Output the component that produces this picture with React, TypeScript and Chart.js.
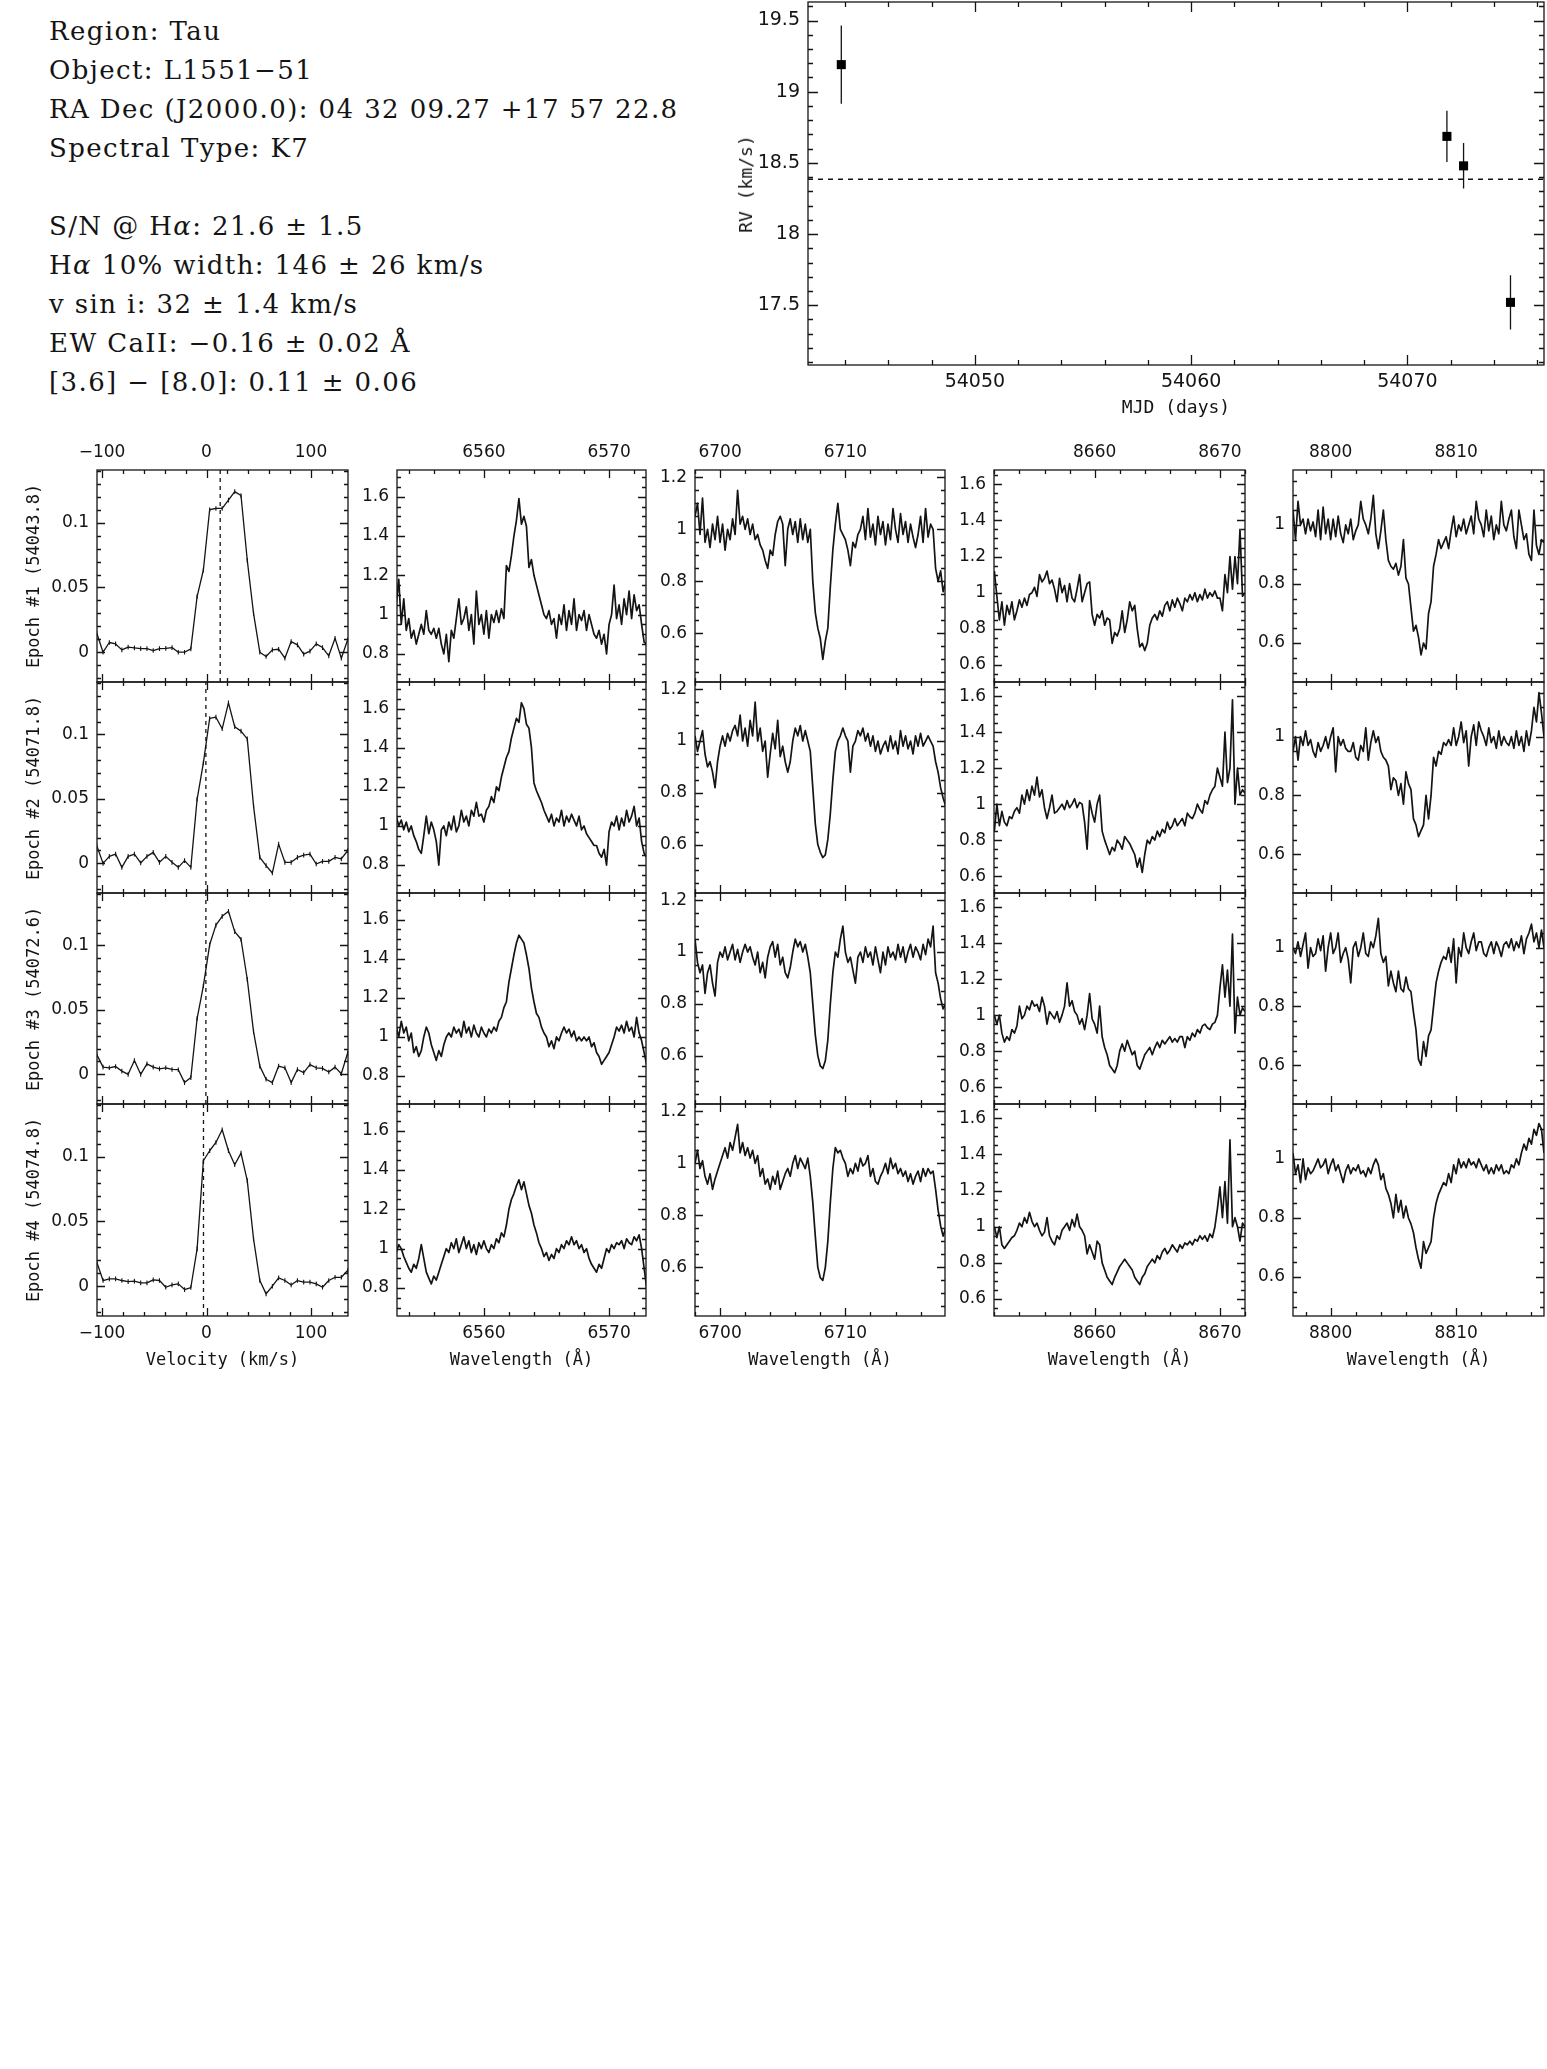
import React, { useEffect, useRef } from "react";
import { Chart, registerables } from "chart.js";

Chart.register(...registerables);

// ======================= DATA =======================
const INFO_LINES = [
  "Region: Tau",
  "Object: L1551\u221251",
  "RA Dec (J2000.0): 04 32 09.27 +17 57 22.8",
  "Spectral Type: K7",
  "",
  "S/N @ H\u03b1: 21.6 \u00b1 1.5",
  "H\u03b1 10% width: 146 \u00b1 26 km/s",
  "v sin i: 32 \u00b1 1.4 km/s",
  "EW CaII: \u22120.16 \u00b1 0.02 \u00c5",
  "[3.6] \u2212 [8.0]: 0.11 \u00b1 0.06",
];

// Radial velocity curve
const RV_MJD = [54043.82, 54071.83, 54072.6, 54074.77];
const RV_KMS = [19.19, 18.686, 18.479, 17.52];
const RV_ERR = [0.275, 0.18, 0.16, 0.19];
const RV_MEAN = 18.385;

const EPOCH_LABELS = ["Epoch #1 (54043.8)", "Epoch #2 (54071.8)", "Epoch #3 (54072.6)", "Epoch #4 (54074.8)"];

// H-alpha velocity profiles
const VELOCITY = [
  -105, -99, -93, -87, -81, -75, -69, -63, -57, -51, -45, -39, -33, -27, -21, -15, -9, -3, 3, 9, 15,
  21, 27, 33, 39, 45, 51, 57, 63, 69, 75, 81, 87, 93, 99, 105, 111, 117, 123, 129, 135,
];
const VEL_FLUX_1 = [
  0.0147, 0.0, 0.0075, 0.0064, 0.0018, 0.0039, 0.0033, 0.0028, 0.0028, 0.0013, 0.0028, 0.003, 0.0036,
  0.0, 0.0, 0.0026, 0.043, 0.0635, 0.11, 0.111, 0.111, 0.1175, 0.124, 0.121, 0.071, 0.03, 0.0,
  -0.0033, 0.0018, 0.0023, -0.0046, 0.0082, 0.0057, -0.0015, 0.0008, 0.0064, 0.0036, -0.0028, 0.0108,
  -0.0046, 0.0095,
];
const VEL_FLUX_2 = [
  0.0137, 0.0, 0.0054, 0.0072, -0.0031, 0.0054, 0.0072, 0.0003, 0.0054, 0.0085, 0.0008, 0.0054, 0.0008,
  -0.0031, 0.0021, -0.0031, 0.0497, 0.078, 0.1124, 0.1134, 0.1044, 0.1245, 0.106, 0.1026, 0.0966,
  0.0446, 0.0046, -0.0018, -0.0075, 0.0149, 0.0008, 0.0008, 0.0046, 0.0064, 0.0072, -0.0005, 0.0015,
  0.0015, 0.0046, 0.0034, 0.0098,
];
const VEL_FLUX_3 = [
  0.0153, 0.0056, 0.0051, 0.0061, 0.0025, 0.0, 0.0107, 0.0, 0.0081, 0.0056, 0.0043, 0.0051, 0.0038,
  0.0036, -0.0064, -0.0025, 0.0433, 0.0687, 0.1005, 0.1158, 0.1226, 0.1265, 0.1107, 0.1048, 0.0738,
  0.0331, 0.0064, -0.0038, -0.0064, 0.0064, 0.0051, -0.0064, 0.0038, 0.0013, 0.0076, 0.0051, 0.0046,
  0.0018, 0.0056, 0.0005, 0.0165,
];
const VEL_FLUX_4 = [
  0.0185, 0.0044, 0.0057, 0.0057, 0.0044, 0.0036, 0.0039, 0.0026, 0.0026, 0.0049, 0.0044, -0.0008,
  0.001, 0.0018, -0.0026, -0.001, 0.0288, 0.0969, 0.1046, 0.111, 0.1208, 0.1046, 0.0938, 0.1028,
  0.0815, 0.0365, 0.0044, -0.0059, 0.0, 0.0064, 0.0044, 0.001, 0.0044, 0.0031, 0.0031, 0.0018,
  -0.0008, 0.0044, 0.0069, 0.0069, 0.0121,
];
const VEL_ERR = [0.0018, 0.0018, 0.0018, 0.0018];
const VEL_DASH = [13.1, -0.6, -0.6, -2.9];

// Spectra: sampled every WL_STEP Angstrom from each start wavelength
const WL_STEP = 0.2;
const HA_START = 6553.0;
const LI_START = 6698.0;
const CA_START = 8652.0;
const MG_START = 8797.0;

const HA_1 = [
  1.05, 1.18, 0.95, 1.08, 0.92, 0.98, 0.88, 0.92, 0.85, 0.9,
  0.95, 0.9, 1.02, 0.92, 0.9, 0.93, 0.88, 0.93, 0.85, 0.8,
  0.9, 0.76, 0.92, 0.88, 0.98, 1.08, 0.95, 0.98, 1.04, 0.92,
  1.0, 0.85, 1.12, 0.95, 1.0, 0.9, 1.02, 0.88, 1.0, 0.96,
  1.02, 0.96, 1.03, 0.98, 1.25, 1.22, 1.3, 1.4, 1.48, 1.59,
  1.46, 1.5, 1.45, 1.24, 1.28, 1.2, 1.15, 1.1, 1.05, 1.0,
  0.98, 1.02, 0.95, 0.98, 0.88, 1.0, 0.95, 1.05, 0.92, 1.02,
  0.95, 1.08, 0.92, 1.0, 0.97, 1.02, 0.92, 1.0, 0.95, 0.9,
  0.88, 0.92, 0.85, 0.9, 0.8, 0.95, 1.0, 1.15, 0.98, 1.05,
  0.95, 1.08, 1.0, 1.12, 0.98, 1.1, 1.02, 1.05, 0.95, 0.86,
  0.85,
];
const HA_2 = [
  1.05, 1.0, 1.03, 0.98, 1.02, 0.97, 1.0, 0.95, 0.92, 0.88,
  0.86, 0.95, 1.05, 0.96, 1.02, 0.98, 0.92, 0.8, 0.98, 1.0,
  0.95, 1.02, 0.98, 1.05, 0.97, 1.0, 1.08, 1.02, 1.05, 1.0,
  1.08, 1.05, 1.12, 1.05, 1.06, 1.02, 1.08, 1.1, 1.15, 1.12,
  1.2, 1.18, 1.25, 1.3, 1.35, 1.38, 1.45, 1.5, 1.55, 1.53,
  1.63, 1.6, 1.52, 1.5, 1.4, 1.22, 1.18, 1.15, 1.12, 1.08,
  1.05, 1.02, 1.06, 1.0, 1.04, 1.02, 1.08, 1.0, 1.05, 1.02,
  1.06, 1.03, 1.0, 1.05, 0.98, 1.0, 0.96, 0.94, 0.92, 0.9,
  0.9, 0.86, 0.84, 0.88, 0.8, 0.97, 1.02, 1.0, 1.05, 0.98,
  1.04, 1.0, 1.08, 1.02, 1.05, 1.1, 1.0, 1.04, 0.92, 0.86,
  0.84,
];
const HA_3 = [
  1.05, 1.0, 1.08, 1.02, 1.05, 0.98, 1.02, 0.92, 0.95, 0.9,
  0.93, 1.0, 1.05, 1.02, 0.96, 0.92, 0.88, 0.93, 0.9, 0.96,
  1.0, 1.02, 1.0, 1.05, 1.02, 1.04, 1.0, 1.08, 1.02, 1.05,
  1.0, 1.06, 1.02, 1.0, 1.05, 1.02, 1.0, 1.04, 1.02, 1.05,
  1.03, 1.08, 1.1, 1.15, 1.18, 1.28, 1.35, 1.42, 1.48, 1.52,
  1.5, 1.48, 1.42, 1.35, 1.25, 1.18, 1.12, 1.1, 1.05, 1.02,
  1.0, 0.95, 0.98, 0.94, 1.0, 0.98, 1.02, 1.05, 1.02, 1.04,
  1.0, 1.03, 0.98, 1.0, 0.98, 1.0, 0.98, 1.0, 0.95, 0.97,
  0.92, 0.9, 0.86, 0.88, 0.9, 0.92, 0.96, 1.0, 1.05, 1.03,
  1.06, 1.02, 1.08, 1.03, 1.05, 1.0, 1.1, 1.02, 0.98, 0.92,
  0.86,
];
const HA_4 = [
  0.98, 1.02, 1.0, 0.96, 0.93, 0.9, 0.88, 0.92, 0.9, 0.95,
  1.02, 0.95, 0.88, 0.85, 0.82, 0.86, 0.84, 0.88, 0.92, 0.96,
  1.0, 0.98, 1.03, 1.0, 1.05, 0.98, 1.02, 1.06, 1.0, 1.04,
  0.98, 1.02, 0.97, 1.03, 1.0, 1.04, 1.0, 0.98, 1.02, 1.0,
  1.05, 1.03, 1.08, 1.06, 1.12, 1.2, 1.25, 1.28, 1.32, 1.35,
  1.3, 1.34, 1.28, 1.22, 1.18, 1.12, 1.08, 1.03, 1.0, 0.96,
  0.98, 0.94, 0.97, 0.95, 1.0, 0.98, 1.02, 1.0, 1.04, 1.02,
  1.06, 1.02, 1.04, 1.0, 1.02, 0.98, 1.0, 0.95, 0.92, 0.9,
  0.88, 0.92, 0.9, 0.95, 1.0, 0.98, 1.02, 1.0, 1.03, 1.02,
  1.04, 1.0, 1.05, 1.03, 1.02, 1.06, 1.04, 1.07, 1.0, 0.9,
  0.8,
];

const LI_1 = [
  1.05, 1.1, 0.98, 1.12, 0.95, 1.0, 0.93, 1.02, 0.96, 1.05,
  0.95, 1.02, 0.92, 1.0, 0.96, 1.04, 0.98, 1.15, 1.02, 1.05,
  1.0, 1.04, 0.98, 1.02, 0.96, 0.98, 0.94, 0.92, 0.88, 0.85,
  0.92, 0.9, 0.98, 1.03, 1.05, 1.02, 0.86, 1.0, 1.04, 0.98,
  1.03, 0.95, 1.04, 0.96, 1.02, 0.95, 1.0, 0.8, 0.68, 0.62,
  0.58, 0.5, 0.57, 0.62, 0.78, 0.92, 1.02, 1.1, 1.0, 0.98,
  0.96, 0.92, 0.86, 0.95, 0.93, 0.98, 1.0, 1.05, 0.96, 1.08,
  0.97, 1.02, 0.94, 1.05, 0.98, 1.03, 0.94, 1.02, 0.96, 1.08,
  1.0, 0.95, 1.06, 0.98, 1.03, 0.95, 1.02, 0.97, 0.93, 0.98,
  1.05, 0.95, 1.08, 0.97, 1.02, 1.0, 0.85, 0.8, 0.84, 0.76,
  0.8,
];
const LI_2 = [
  1.02, 0.96, 1.0, 1.04, 0.95, 0.9, 0.92, 0.88, 0.82, 0.92,
  0.98, 1.02, 0.98, 1.03, 1.0, 1.04, 1.06, 1.02, 1.1, 1.0,
  1.05, 0.98, 1.08, 1.02, 1.15, 1.0, 1.05, 0.96, 1.0, 0.86,
  0.95, 1.03, 0.97, 1.08, 0.94, 0.98, 0.92, 0.88, 0.92, 1.0,
  1.05, 1.02, 1.06, 1.0, 1.04, 1.0, 0.96, 0.82, 0.68, 0.6,
  0.57, 0.55, 0.56, 0.62, 0.72, 0.85, 0.96, 1.0, 1.02, 1.05,
  1.02, 1.0, 0.88, 0.98, 1.0, 1.04, 1.02, 1.05, 1.0, 1.03,
  0.98, 1.02, 0.96, 1.0, 0.95, 0.98, 1.0, 0.96, 1.02, 0.97,
  1.0, 0.95, 1.04, 0.98, 1.02, 0.97, 1.0, 0.95, 1.02, 0.98,
  1.03, 0.98, 1.0, 1.02, 1.0, 0.98, 0.92, 0.88, 0.82, 0.78,
  0.75,
];
const LI_3 = [
  1.05, 0.96, 0.92, 0.95, 0.84, 0.92, 0.95, 0.88, 0.83, 0.96,
  1.0, 0.98, 1.02, 0.97, 1.0, 1.03, 0.97, 1.01, 0.96, 1.0,
  1.03, 1.0, 1.02, 0.98, 0.95, 1.0, 0.92, 0.96, 0.9, 0.98,
  1.02, 1.04, 0.98, 1.03, 0.95, 0.98, 0.92, 0.9, 0.94, 1.0,
  1.05, 1.02, 1.04, 1.0, 1.03, 0.98, 0.92, 0.8, 0.68, 0.6,
  0.56, 0.55, 0.58, 0.66, 0.8, 0.92, 1.0, 0.98, 1.05, 1.1,
  1.0, 0.96, 0.98, 0.93, 0.88, 0.98, 1.0, 0.96, 1.02, 0.98,
  1.0, 0.95, 1.02, 0.97, 0.92, 1.0, 0.95, 1.02, 0.98, 1.0,
  0.97, 1.03, 0.98, 1.02, 0.96, 1.0, 1.03, 0.98, 1.02, 1.0,
  0.97, 1.03, 0.99, 1.05, 1.02, 1.1, 0.92, 0.88, 0.82, 0.78,
  0.8,
];
const LI_4 = [
  1.0, 1.05, 0.98, 1.01, 0.95, 0.92, 0.96, 0.9, 0.94, 0.97,
  1.0, 1.03, 1.06, 1.02, 1.08, 1.05, 1.1, 1.15, 1.04, 1.08,
  1.03, 1.06, 1.02, 1.05, 1.0, 1.03, 0.95, 0.98, 0.92, 0.94,
  0.9, 0.95, 0.92, 0.97, 0.9, 0.93, 0.96, 0.98, 0.95, 1.0,
  1.03, 0.98, 1.02, 1.0, 0.98, 1.02, 0.95, 0.85, 0.72, 0.6,
  0.56, 0.55, 0.6, 0.7, 0.85, 0.98, 1.06, 1.04, 1.05, 1.02,
  1.0, 0.95, 0.98, 0.96, 1.0, 0.97, 1.02, 0.99, 1.0, 1.03,
  0.95, 0.98, 0.93, 0.92, 0.95, 0.97, 1.0, 0.96, 1.02, 0.98,
  1.0, 0.96, 0.98, 0.95, 0.97, 0.93, 0.96, 0.92, 0.95, 0.97,
  0.93, 0.98, 0.95, 0.98, 0.96, 0.97, 0.9, 0.82, 0.76, 0.72,
  0.75,
];

const CA_1 = [
  1.12, 0.98, 0.85, 0.95, 0.82, 0.93, 0.88, 0.95, 0.85, 0.9,
  0.96, 0.92, 0.97, 0.93, 0.99, 1.0, 1.03, 0.98, 1.1, 1.06,
  1.08, 1.12, 1.05, 1.07, 1.02, 0.95, 1.08, 1.0, 1.04, 0.95,
  1.05, 0.97, 0.95, 1.02, 1.1, 0.95, 1.0, 1.05, 1.06, 0.88,
  0.82, 0.88, 0.86, 0.9, 0.82, 0.86, 0.85, 0.72, 0.78, 0.76,
  0.8, 0.9, 0.78, 0.85, 0.95, 0.9, 0.93, 0.8, 0.7, 0.72,
  0.68, 0.72, 0.82, 0.86, 0.88, 0.85, 0.9, 0.87, 0.93, 0.95,
  0.9, 0.96, 0.92, 0.97, 0.94, 0.9, 0.97, 0.95, 0.99, 0.96,
  1.0, 0.95, 0.99, 0.96, 1.02, 0.97, 1.0, 0.98, 1.01, 0.97,
  0.97, 0.9, 1.1, 1.0, 1.2, 1.02, 1.2, 1.05, 1.35, 0.98,
  1.0,
];
const CA_2 = [
  0.85, 1.0, 0.88, 0.96, 0.9, 0.88, 0.93, 0.92, 0.96, 0.98,
  0.95, 1.05, 1.0, 1.08, 1.02, 1.1, 1.05, 1.15, 1.04, 1.08,
  0.98, 0.92, 0.98, 1.05, 0.95, 0.96, 0.98, 1.0, 0.97, 1.02,
  0.98, 1.0, 1.03, 0.98, 1.01, 1.0, 0.9, 0.75, 1.02, 0.95,
  0.9, 1.0, 1.05, 0.85, 0.8, 0.76, 0.72, 0.76, 0.74, 0.8,
  0.78, 0.75, 0.82, 0.8, 0.78, 0.75, 0.72, 0.65, 0.7, 0.62,
  0.72, 0.8, 0.78, 0.82, 0.8, 0.85, 0.82, 0.86, 0.84, 0.9,
  0.86, 0.88, 0.92, 0.88, 0.9, 0.92, 0.88, 0.95, 0.93, 0.92,
  0.95, 1.0, 0.97, 0.95, 1.02, 1.0, 1.05, 1.08, 1.1, 1.2,
  1.15, 1.1, 1.4, 1.12, 1.2, 1.58, 1.0, 1.2, 1.05, 1.08,
  1.06,
];
const CA_3 = [
  1.0, 0.95, 1.0, 0.9, 0.85, 0.88, 0.86, 0.92, 0.9, 0.94,
  1.05, 0.98, 1.0, 1.05, 1.03, 1.08, 1.05, 1.06, 1.02, 1.1,
  1.05, 0.95, 1.02, 1.0, 0.98, 1.02, 0.96, 1.0, 1.05, 1.18,
  1.05, 1.08, 1.02, 1.0, 0.95, 0.98, 0.92, 1.0, 1.12, 0.98,
  0.95, 0.9, 1.05, 0.88, 0.82, 0.78, 0.72, 0.7, 0.68, 0.72,
  0.8, 0.84, 0.8, 0.86, 0.82, 0.78, 0.8, 0.72, 0.7, 0.74,
  0.78, 0.8, 0.82, 0.78, 0.82, 0.85, 0.82, 0.86, 0.84, 0.86,
  0.88, 0.85, 0.87, 0.85, 0.88, 0.88, 0.82, 0.88, 0.86, 0.9,
  0.88, 0.92, 0.9, 0.94, 0.95, 0.93, 0.92, 0.95, 0.96, 1.0,
  1.15, 1.28, 1.1, 1.25, 1.05, 1.45, 0.9, 1.1, 1.0, 1.04,
  1.02,
];
const CA_4 = [
  1.0, 0.94, 1.0, 0.9, 0.88, 0.9, 0.92, 0.94, 0.95, 0.98,
  1.02, 1.0, 1.05, 1.02, 1.08, 1.03, 1.0, 1.02, 0.98, 0.95,
  0.97, 1.05, 0.95, 0.92, 0.9, 0.95, 0.93, 0.98, 1.0, 1.02,
  0.98, 1.04, 1.0, 1.07, 1.0, 0.98, 0.95, 0.85, 0.9, 0.86,
  0.82, 0.92, 0.9, 0.8, 0.76, 0.72, 0.7, 0.68, 0.72, 0.75,
  0.78, 0.8, 0.82, 0.8, 0.78, 0.76, 0.72, 0.7, 0.68, 0.72,
  0.74, 0.78, 0.8, 0.82, 0.8, 0.84, 0.82, 0.86, 0.88, 0.85,
  0.87, 0.9, 0.88, 0.86, 0.9, 0.88, 0.91, 0.9, 0.92, 0.9,
  0.93, 0.92, 0.95, 0.93, 0.95, 0.92, 0.96, 0.94, 1.0, 1.1,
  1.22, 1.05, 1.25, 1.02, 1.48, 1.0, 1.05, 1.0, 0.92, 1.02,
  1.0,
];

const MG_1 = [
  1.05, 0.95, 1.08, 1.0, 1.02, 0.97, 1.02, 0.98, 1.01, 0.96,
  1.05, 0.95, 1.06, 0.97, 1.02, 0.95, 1.02, 0.96, 1.03, 0.97,
  0.94, 1.0, 0.97, 1.02, 0.95, 0.98, 1.0, 1.08, 1.02, 1.0,
  0.97, 1.02, 1.1, 0.97, 0.92, 0.98, 1.05, 0.95, 0.88, 0.86,
  0.85, 0.87, 0.83, 0.86, 0.95, 0.82, 0.8, 0.72, 0.64, 0.66,
  0.62, 0.56, 0.6, 0.58, 0.7, 0.74, 0.86, 0.9, 0.95, 0.92,
  0.94, 0.96, 0.92, 0.98, 1.03, 0.96, 1.0, 0.98, 1.02, 0.97,
  1.0, 1.03, 0.97, 1.08, 1.02, 1.0, 0.96, 1.05, 0.98, 1.03,
  0.95, 1.0, 0.97, 1.08, 1.0, 0.98, 1.02, 1.05, 0.96, 0.92,
  1.05, 1.0, 0.95, 0.97, 0.9, 0.88, 1.05, 0.93, 0.9, 0.95,
  0.94,
];
const MG_2 = [
  0.95, 1.0, 0.92, 1.0, 0.97, 1.02, 0.97, 0.99, 0.95, 0.93,
  0.98, 0.95, 0.97, 1.0, 0.96, 1.0, 1.03, 0.88, 1.0, 0.97,
  0.99, 0.96, 0.95, 0.95, 0.98, 0.93, 0.92, 0.97, 0.95, 1.03,
  0.92, 0.98, 1.02, 0.98, 1.0, 0.95, 0.93, 0.92, 0.9, 0.82,
  0.86, 0.85, 0.8, 0.84, 0.77, 0.88, 0.84, 0.82, 0.72, 0.7,
  0.66, 0.68, 0.7, 0.8, 0.72, 0.8, 0.93, 0.9, 0.95, 0.94,
  0.98, 0.97, 0.99, 0.97, 1.03, 0.97, 1.0, 1.05, 0.98, 1.02,
  0.9, 1.0, 1.04, 0.97, 1.05, 1.02, 1.0, 0.97, 1.03, 0.98,
  1.0, 0.96, 1.02, 0.97, 1.0, 0.98, 0.97, 1.0, 0.96, 1.02,
  0.97, 1.0, 0.95, 1.02, 0.97, 1.02, 1.1, 1.05, 1.15, 1.08,
  1.0,
];
const MG_3 = [
  1.0, 0.98, 1.02, 0.97, 1.01, 1.05, 0.93, 1.0, 0.97, 0.98,
  1.03, 0.99, 1.04, 0.92, 1.0, 1.05, 0.98, 1.0, 1.05, 0.95,
  0.98, 1.0, 0.96, 0.88, 1.0, 1.02, 0.97, 1.0, 1.05, 0.98,
  0.97, 1.02, 1.0, 1.04, 1.1, 0.98, 0.95, 0.97, 0.87, 0.92,
  0.88, 0.85, 0.92, 0.86, 0.85, 0.9, 0.86, 0.85, 0.78, 0.72,
  0.62, 0.6, 0.68, 0.63, 0.7, 0.72, 0.8, 0.88, 0.92, 0.95,
  0.97, 0.96, 1.0, 0.95, 1.03, 0.88, 1.0, 0.97, 1.05, 1.0,
  0.98, 1.02, 1.05, 0.99, 1.02, 1.02, 0.98, 0.97, 1.0, 1.02,
  0.98, 1.02, 1.0, 0.97, 1.01, 1.02, 1.0, 1.03, 0.99, 1.02,
  1.0, 1.04, 0.98, 1.03, 1.05, 1.08, 1.02, 1.05, 1.0, 1.06,
  1.0,
];
const MG_4 = [
  1.02, 0.95, 0.98, 0.92, 1.0, 0.93, 0.97, 0.95, 0.96, 0.98,
  1.0, 0.97, 0.98, 1.0, 0.95, 0.98, 1.0, 0.96, 0.98, 0.95,
  0.92, 0.96, 0.98, 0.95, 0.97, 0.96, 0.98, 0.95, 0.96, 0.94,
  0.97, 0.95, 0.98, 1.0, 0.98, 0.93, 0.95, 0.9, 0.88, 0.85,
  0.8, 0.88, 0.82, 0.86, 0.8, 0.84, 0.8, 0.78, 0.75, 0.7,
  0.66, 0.63, 0.72, 0.68, 0.7, 0.72, 0.8, 0.85, 0.88, 0.9,
  0.92, 0.91, 0.95, 0.92, 0.98, 0.95, 1.0, 0.97, 0.99, 0.97,
  1.0, 0.98, 0.99, 0.97, 1.0, 0.98, 0.96, 0.98, 0.95, 0.97,
  0.95, 0.98, 0.96, 0.98, 0.95, 0.96, 0.95, 0.98, 0.97, 1.0,
  0.98, 1.02, 1.05, 1.03, 1.07, 1.05, 1.1, 1.08, 1.12, 1.1,
  1.02,
];

// ======================= LAYOUT / STYLE =======================
type Axis = { min: number; max: number; major: number; minor: number };

const INK = "#141414";
const TICK_FONT = "DejaVu Sans";
const TITLE_FONT = "DejaVu Sans Mono";

const COL_LEFT = [97, 397, 695, 994, 1293];
const COL_WIDTH = [251, 249, 250, 251, 251];
const ROW_EDGES = [470, 682, 893, 1104, 1316];

const COL_X: Axis[] = [
  { min: -104.8, max: 135.4, major: 100, minor: 20 },
  { min: 6553.06, max: 6572.95, major: 10, minor: 2 },
  { min: 6698.0, max: 6717.95, major: 10, minor: 2 },
  { min: 8651.97, max: 8672.0, major: 10, minor: 2 },
  { min: 8797.0, max: 8817.0, major: 10, minor: 2 },
];
const COL_Y: Axis[] = [
  { min: -0.023, max: 0.1407, major: 0.05, minor: 0.01 },
  { min: 0.657, max: 1.736, major: 0.2, minor: 0.05 },
  { min: 0.413, max: 1.228, major: 0.2, minor: 0.05 },
  { min: 0.506, max: 1.679, major: 0.2, minor: 0.05 },
  { min: 0.468, max: 1.186, major: 0.2, minor: 0.05 },
];
const COL_TITLES = ["Velocity (km/s)", "Wavelength (\u00c5)", "Wavelength (\u00c5)", "Wavelength (\u00c5)", "Wavelength (\u00c5)"];

const RV_X: Axis = { min: 54042.28, max: 54076.32, major: 10, minor: 2 };
const RV_Y: Axis = { min: 17.08, max: 19.63, major: 0.5, minor: 0.1 };

// ======================= HELPERS =======================
const fmtTick = (v: number | string) => {
  const n = typeof v === "number" ? v : parseFloat(v);
  const r = Math.round(n * 10000) / 10000;
  const s = String(r === 0 ? 0 : r);
  return s.charAt(0) === "-" ? "\u2212" + s.slice(1) : s;
};

function tickValues(min: number, max: number, step: number): number[] {
  const out: number[] = [];
  const k0 = Math.ceil(min / step - 1e-6);
  const k1 = Math.floor(max / step + 1e-6);
  for (let k = k0; k <= k1; k++) out.push(Math.round(k * step * 1e6) / 1e6);
  return out;
}
const onGrid = (v: number, step: number) => Math.abs(v / step - Math.round(v / step)) < 1e-4;

type ErrSpec = { xs: number[]; ys: number[]; es: number[]; lw: number };

function framePlugin(x: Axis, y: Axis, majorLen: number, minorLen: number, lw: number, err?: ErrSpec, errBefore?: boolean) {
  const drawErr = (chart: any) => {
    if (!err) return;
    const { ctx, chartArea: a, scales } = chart;
    ctx.save();
    ctx.beginPath();
    ctx.rect(a.left, a.top, a.right - a.left, a.bottom - a.top);
    ctx.clip();
    ctx.strokeStyle = INK;
    ctx.lineWidth = err.lw;
    ctx.beginPath();
    for (let i = 0; i < err.xs.length; i++) {
      const px = scales.x.getPixelForValue(err.xs[i]);
      const p1 = scales.y.getPixelForValue(err.ys[i] - err.es[i]);
      const p2 = scales.y.getPixelForValue(err.ys[i] + err.es[i]);
      ctx.moveTo(px, p1);
      ctx.lineTo(px, p2);
    }
    ctx.stroke();
    ctx.restore();
  };
  return {
    id: "frameTicks",
    beforeDatasetsDraw(chart: any) {
      if (errBefore) drawErr(chart);
    },
    afterDatasetsDraw(chart: any) {
      if (!errBefore) drawErr(chart);
      const { ctx, chartArea: a, scales } = chart;
      const xs = scales.x;
      const ys = scales.y;
      ctx.save();
      ctx.strokeStyle = INK;
      ctx.lineWidth = lw;
      ctx.beginPath();
      for (const v of tickValues(x.min, x.max, x.minor)) {
        const len = onGrid(v, x.major) ? majorLen : minorLen;
        const px = Math.round(xs.getPixelForValue(v)) + 0.5;
        ctx.moveTo(px, a.bottom);
        ctx.lineTo(px, a.bottom - len);
        ctx.moveTo(px, a.top);
        ctx.lineTo(px, a.top + len);
      }
      for (const v of tickValues(y.min, y.max, y.minor)) {
        const len = onGrid(v, y.major) ? majorLen : minorLen;
        const py = Math.round(ys.getPixelForValue(v)) + 0.5;
        ctx.moveTo(a.left, py);
        ctx.lineTo(a.left + len, py);
        ctx.moveTo(a.right, py);
        ctx.lineTo(a.right - len, py);
      }
      ctx.stroke();
      ctx.strokeRect(a.left, a.top, a.right - a.left, a.bottom - a.top);
      ctx.restore();
    },
  };
}

function axisCfg(ax: Axis, size: number, padding: number) {
  return {
    type: "linear",
    min: ax.min,
    max: ax.max,
    grid: { display: false, drawTicks: false },
    border: { display: false },
    afterBuildTicks: (s: any) => {
      s.ticks = tickValues(ax.min, ax.max, ax.major).map((v) => ({ value: v }));
    },
    ticks: {
      autoSkip: false,
      maxRotation: 0,
      minRotation: 0,
      padding,
      color: INK,
      font: { family: TICK_FONT, size, lineHeight: 1.2 },
      callback: (v: any) => fmtTick(v),
    },
  };
}

// ======================= PANEL =======================
interface PanelProps {
  left: number;
  top: number;
  width: number;
  height: number;
  x: Axis;
  y: Axis;
  xs: number[];
  ys: number[];
  errs?: number[];
  dashX?: number;
  showTop: boolean;
  showBottom: boolean;
  lineWidth: number;
}

function Panel(p: PanelProps) {
  const ref = useRef<HTMLCanvasElement | null>(null);
  const L = 64;
  const R = 4;
  // margins large enough to hold Chart.js' own label overhang padding
  const T = p.showTop ? 34 : 24;
  const B = p.showBottom ? 34 : 24;
  const cw = L + p.width + R;
  const ch = T + p.height + B;

  useEffect(() => {
    if (!ref.current) return;
    const datasets: any[] = [
      {
        data: p.xs.map((xv, i) => ({ x: xv, y: p.ys[i] })),
        borderColor: INK,
        borderWidth: p.lineWidth,
        borderJoinStyle: "round",
        pointRadius: 0,
        tension: 0,
        fill: false,
      },
    ];
    if (p.dashX !== undefined) {
      datasets.push({
        data: [
          { x: p.dashX, y: p.y.min },
          { x: p.dashX, y: p.y.max },
        ],
        borderColor: INK,
        borderWidth: 1.3,
        borderDash: [4, 4],
        pointRadius: 0,
        fill: false,
      });
    }
    const err: ErrSpec | undefined = p.errs ? { xs: p.xs, ys: p.ys, es: p.errs, lw: 1.1 } : undefined;
    const chart = new Chart(ref.current, {
      type: "line",
      data: { datasets },
      options: {
        responsive: false,
        animation: false,
        events: [],
        layout: {
          autoPadding: false,
          padding: { left: 0, right: R, top: p.showTop ? 0 : T, bottom: p.showBottom ? 0 : B },
        },
        plugins: { legend: { display: false }, tooltip: { enabled: false }, title: { display: false } },
        scales: {
          x: {
            ...axisCfg(p.x, 17, 7),
            position: "bottom",
            display: p.showBottom,
            afterFit: (s: any) => {
              if (p.showBottom) s.height = B;
            },
          },
          x2: {
            ...axisCfg(p.x, 17, 7),
            axis: "x",
            position: "top",
            display: p.showTop,
            afterFit: (s: any) => {
              if (p.showTop) s.height = T;
            },
          },
          y: {
            ...axisCfg(p.y, 17, 8),
            position: "left",
            afterFit: (s: any) => {
              s.width = L;
            },
          },
        },
      } as any,
      plugins: [framePlugin(p.x, p.y, 8, 4, 1.3, err)],
    });
    return () => chart.destroy();
  }, []);

  return (
    <canvas
      ref={ref}
      width={cw}
      height={ch}
      style={{ position: "absolute", left: p.left - L, top: p.top - T, width: cw, height: ch }}
    />
  );
}

// ======================= RV CHART =======================
function RVChart() {
  const ref = useRef<HTMLCanvasElement | null>(null);
  const FRAME_TOP = 2;
  const T = 24;
  const CL = 700;
  const CT = FRAME_TOP - T;
  const CW = 847;
  const CH = 420 - CT;
  const L = 108;
  const R = 3;
  const B = 55;

  useEffect(() => {
    if (!ref.current) return;
    const chart = new Chart(ref.current, {
      type: "scatter",
      data: {
        datasets: [
          {
            type: "line",
            data: [
              { x: RV_X.min, y: RV_MEAN },
              { x: RV_X.max, y: RV_MEAN },
            ],
            borderColor: INK,
            borderWidth: 1.3,
            borderDash: [5, 5],
            pointRadius: 0,
            fill: false,
          },
          {
            type: "scatter",
            data: RV_MJD.map((m, i) => ({ x: m, y: RV_KMS[i] })),
            pointStyle: "rect",
            pointRadius: 6.4,
            backgroundColor: "#000",
            borderColor: "#000",
            borderWidth: 0,
          },
        ],
      },
      options: {
        responsive: false,
        animation: false,
        events: [],
        layout: { autoPadding: false, padding: { left: 0, right: R, top: T, bottom: 0 } },
        plugins: { legend: { display: false }, tooltip: { enabled: false }, title: { display: false } },
        scales: {
          x: {
            ...axisCfg(RV_X, 19, 6),
            position: "bottom",
            afterFit: (s: any) => {
              s.height = B;
            },
          },
          y: {
            ...axisCfg(RV_Y, 19, 8),
            position: "left",
            afterFit: (s: any) => {
              s.width = L;
            },
          },
        },
      } as any,
      plugins: [framePlugin(RV_X, RV_Y, 10, 5, 1.3, { xs: RV_MJD, ys: RV_KMS, es: RV_ERR, lw: 1.3 }, true)],
    });
    return () => chart.destroy();
  }, []);

  return (
    <canvas
      ref={ref}
      width={CW}
      height={CH}
      style={{ position: "absolute", left: CL, top: CT, width: CW, height: CH }}
    />
  );
}

// ======================= TEXT HELPERS =======================
function TextLabel(props: { x: number; y: number; text: string; rotate?: boolean; size: number; family: string }) {
  return (
    <div
      style={{
        position: "absolute",
        left: props.x,
        top: props.y,
        transform: `translate(-50%, -50%)${props.rotate ? " rotate(-90deg)" : ""}`,
        fontFamily: props.family,
        fontSize: props.size,
        lineHeight: 1,
        whiteSpace: "nowrap",
        color: INK,
      }}
    >
      {props.text}
    </div>
  );
}

function InfoLine({ text }: { text: string }) {
  const parts = text.split("\u03b1");
  const out: React.ReactNode[] = [];
  parts.forEach((part, i) => {
    out.push(<span key={"p" + i}>{part}</span>);
    if (i < parts.length - 1) out.push(<i key={"a" + i}>{"\u03b1"}</i>);
  });
  return <div style={{ height: 39, whiteSpace: "pre" }}>{text === "" ? "\u00a0" : out}</div>;
}

// ======================= APP =======================
const VEL_SERIES = [VEL_FLUX_1, VEL_FLUX_2, VEL_FLUX_3, VEL_FLUX_4];
const SPEC_SERIES = [
  { start: HA_START, rows: [HA_1, HA_2, HA_3, HA_4] },
  { start: LI_START, rows: [LI_1, LI_2, LI_3, LI_4] },
  { start: CA_START, rows: [CA_1, CA_2, CA_3, CA_4] },
  { start: MG_START, rows: [MG_1, MG_2, MG_3, MG_4] },
];

export default function App() {
  const panels: React.ReactNode[] = [];
  for (let r = 0; r < 4; r++) {
    const top = ROW_EDGES[r];
    const height = ROW_EDGES[r + 1] - ROW_EDGES[r];
    for (let c = 0; c < 5; c++) {
      let xs: number[];
      let ys: number[];
      let errs: number[] | undefined;
      let dashX: number | undefined;
      if (c === 0) {
        xs = VELOCITY;
        ys = VEL_SERIES[r];
        errs = VELOCITY.map(() => VEL_ERR[r]);
        dashX = VEL_DASH[r];
      } else {
        const spec = SPEC_SERIES[c - 1];
        ys = spec.rows[r];
        xs = ys.map((_, i) => Math.round((spec.start + i * WL_STEP) * 100) / 100);
      }
      panels.push(
        <Panel
          key={`p${r}-${c}`}
          left={COL_LEFT[c]}
          top={top}
          width={COL_WIDTH[c]}
          height={height}
          x={COL_X[c]}
          y={COL_Y[c]}
          xs={xs}
          ys={ys}
          errs={errs}
          dashX={dashX}
          showTop={r === 0}
          showBottom={r === 3}
          lineWidth={c === 0 ? 1.3 : 1.7}
        />
      );
    }
  }

  return (
    <div
      style={{
        position: "absolute",
        left: 0,
        top: 0,
        width: 1547,
        height: 2069,
        background: "#fff",
        overflow: "hidden",
      }}
    >
      <div
        style={{
          position: "absolute",
          left: 49,
          top: 12,
          fontFamily: "DejaVu Serif",
          fontSize: 26,
          lineHeight: "39px",
          letterSpacing: "1.4px",
          color: INK,
        }}
      >
        {INFO_LINES.map((t, i) => (
          <InfoLine key={i} text={t} />
        ))}
      </div>

      <RVChart />
      <TextLabel x={746} y={183.5} text="RV (km/s)" rotate size={18} family={TITLE_FONT} />
      <TextLabel x={1176} y={407} text="MJD (days)" size={18} family={TITLE_FONT} />

      {panels}

      {EPOCH_LABELS.map((t, r) => (
        <TextLabel
          key={"e" + r}
          x={33}
          y={(ROW_EDGES[r] + ROW_EDGES[r + 1]) / 2}
          text={t}
          rotate
          size={17}
          family={TITLE_FONT}
        />
      ))}
      {COL_TITLES.map((t, c) => (
        <TextLabel
          key={"t" + c}
          x={COL_LEFT[c] + COL_WIDTH[c] / 2}
          y={1359}
          text={t}
          size={17}
          family={TITLE_FONT}
        />
      ))}
    </div>
  );
}
